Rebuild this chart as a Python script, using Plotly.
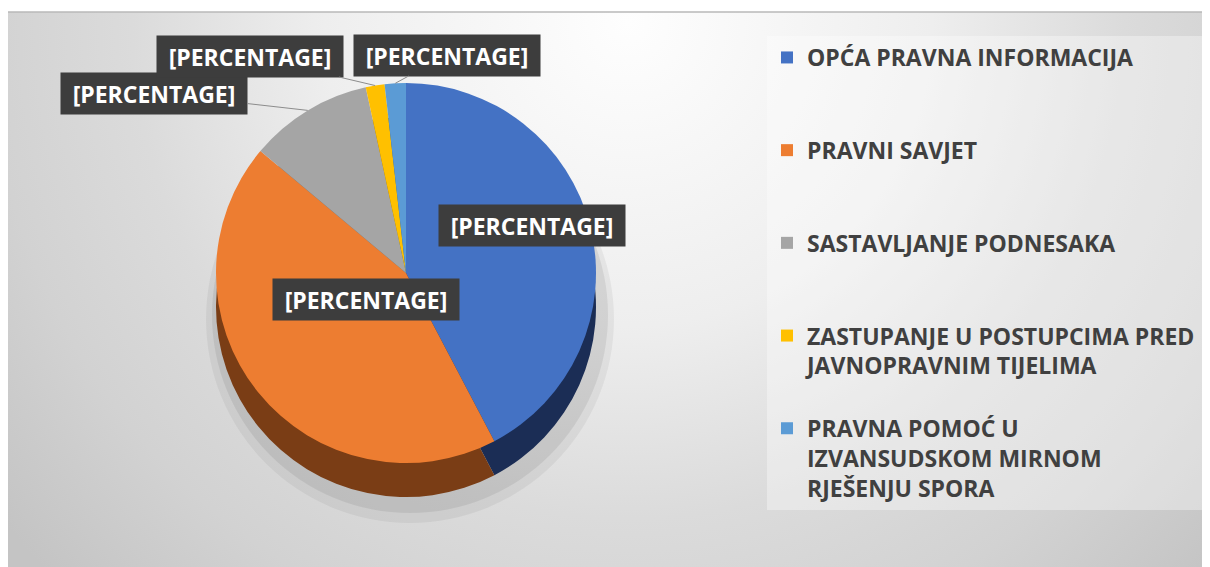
import math
import base64
import plotly.graph_objects as go

# ---------------- data ----------------
categories = [
    "OPĆA PRAVNA INFORMACIJA",
    "PRAVNI SAVJET",
    "SASTAVLJANJE PODNESAKA",
    "ZASTUPANJE U POSTUPCIMA PRED JAVNOPRAVNIM TIJELIMA",
    "PRAVNA POMOĆ U IZVANSUDSKOM MIRNOM RJEŠENJU SPORA",
]
legend_labels = [
    "OPĆA PRAVNA INFORMACIJA<br>&nbsp;<br>&nbsp;",
    "PRAVNI SAVJET<br>&nbsp;<br>&nbsp;",
    "SASTAVLJANJE PODNESAKA<br>&nbsp;<br>&nbsp;",
    "ZASTUPANJE U POSTUPCIMA PRED<br>JAVNOPRAVNIM TIJELIMA<br>&nbsp;",
    "PRAVNA POMOĆ U<br>IZVANSUDSKOM MIRNOM<br>RJEŠENJU SPORA",
]
values = [42.3, 43.8, 10.5, 1.6, 1.8]
data_labels = ["[PERCENTAGE]", "[PERCENTAGE]", "[PERCENTAGE]", "[PERCENTAGE]", "[PERCENTAGE]"]

colors = ["#4472C4", "#ED7D31", "#A5A5A5", "#FFC000", "#5B9BD5"]
side_colors = ["#1B2D55", "#7A3D15", "#606060", "#8F6C00", "#2F5C87"]

# ---------------- layout geometry (page pixels; page body has an 8px margin) ----------------
OFF = 8
FW, FH = 1210 - OFF, 567 - OFF


def px(x):
    return (x - OFF) / FW


def py(y):
    return 1 - (y - OFF) / FH


cx, top, r, depth = 406, 83, 190, 34
cy = top + r

dom_x = [px(cx - r), px(cx + r)]
dom_y = [py(top + 2 * r), py(top)]
dom_y_side = [py(top + 2 * r + depth), py(top + depth)]

fig = go.Figure()

# soft drop shadow under the pie (one slice carrying the full total)
for grow, drop, alpha in [(14, 12, 0.05), (8, 8, 0.07)]:
    fig.add_trace(go.Pie(
        labels=["total"], values=[sum(values)], sort=False,
        marker=dict(colors=[f"rgba(0,0,0,{alpha})"], line=dict(width=0)),
        textinfo="none", hoverinfo="skip", showlegend=False,
        domain=dict(x=[px(cx - r - grow + 4), px(cx + r + grow + 4)],
                    y=[py(top + 2 * r + depth + drop + grow), py(top + depth + drop - grow)]),
    ))

# pie "side" (depth) layer
fig.add_trace(go.Pie(
    labels=legend_labels, values=values, sort=False, direction="clockwise", rotation=0,
    marker=dict(colors=side_colors, line=dict(width=0)),
    textinfo="none", hoverinfo="skip", showlegend=False,
    domain=dict(x=dom_x, y=dom_y_side),
))
# pie top face
fig.add_trace(go.Pie(
    labels=legend_labels, values=values, sort=False, direction="clockwise", rotation=0,
    marker=dict(colors=colors, line=dict(width=0)),
    textinfo="none", hoverinfo="label+percent", showlegend=True,
    domain=dict(x=dom_x, y=dom_y),
))

# data labels
label_pos = [(532, 225), (272, 299), (154, 93), (250, 56), (447, 55)]
inside = [True, True, False, False, False]
total = sum(values)
cum = 0.0
for i, v in enumerate(values):
    mid = (cum + v / 2) / total * 2 * math.pi
    cum += v
    ex = cx + r * math.sin(mid)
    ey = cy - r * math.cos(mid)
    lx, ly = label_pos[i]
    common = dict(
        text=data_labels[i], xref="paper", yref="paper",
        font=dict(family="Open Sans", size=23, color="white", weight="bold"),
        bgcolor="#3D3D3D", borderpad=4, width=178, height=33,
    )
    if inside[i]:
        fig.add_annotation(x=px(lx), y=py(ly), showarrow=False, **common)
    else:
        fig.add_annotation(x=px(ex), y=py(ey), showarrow=True, arrowhead=0,
                           arrowwidth=1, arrowcolor="#8C8C8C",
                           ax=lx - ex, ay=ly - ey, **common)

# gradient background
svg = (
    '<svg xmlns="http://www.w3.org/2000/svg" width="1197" height="555" preserveAspectRatio="none">'
    '<defs><radialGradient id="g" gradientUnits="userSpaceOnUse" cx="620" cy="10" r="800">'
    '<stop offset="0" stop-color="#fefefe"/>'
    '<stop offset="0.38" stop-color="#eeeeee"/>'
    '<stop offset="0.62" stop-color="#dbdbdb"/>'
    '<stop offset="0.8" stop-color="#d2d2d2"/>'
    '<stop offset="1" stop-color="#c4c4c4"/>'
    '</radialGradient></defs><rect width="1197" height="555" fill="url(#g)"/></svg>'
)
src = "data:image/svg+xml;base64," + base64.b64encode(svg.encode()).decode()
fig.add_layout_image(source=src, xref="paper", yref="paper", x=px(8), y=py(12),
                     sizex=(1205 - 8) / FW, sizey=(567 - 12) / FH, sizing="stretch",
                     xanchor="left", yanchor="top", layer="below")
fig.add_shape(type="line", xref="paper", yref="paper", x0=px(8), x1=px(1205),
              y0=py(12), y1=py(12), line=dict(color="#B8B8B8", width=1.5), layer="below")

fig.update_layout(
    width=FW, height=FH, autosize=False,
    margin=dict(l=0, r=0, t=0, b=0),
    paper_bgcolor="white", plot_bgcolor="rgba(0,0,0,0)",
    legend=dict(
        x=px(767), y=py(36), xanchor="left", yanchor="top",
        bgcolor="rgba(255,255,255,0.35)", borderwidth=0, valign="top",
        font=dict(family="Open Sans", size=23, color="#404040", weight="bold"),
        itemclick=False, itemdoubleclick=False,
    ),
)

fig.write_html("out.html")
